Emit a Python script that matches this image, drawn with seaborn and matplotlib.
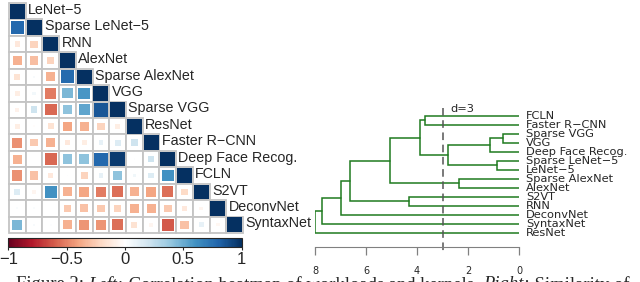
import numpy as np
import pandas as pd
import matplotlib
matplotlib.use('Agg')
import matplotlib.pyplot as plt
import seaborn as sns
from matplotlib.colors import LinearSegmentedColormap, ListedColormap, Normalize
from matplotlib.cm import ScalarMappable
from matplotlib.patches import Rectangle

# %%
# data
nets = ['LeNet−5', 'Sparse LeNet−5', 'RNN', 'AlexNet', 'Sparse AlexNet', 'VGG',
        'Sparse VGG', 'ResNet', 'Faster R−CNN', 'Deep Face Recog.', 'FCLN',
        'S2VT', 'DeconvNet', 'SyntaxNet']

# lower triangle of the correlation matrix, row by row (diagonal is 1)
corr_rows = [
    [0.78],
    [-0.13, -0.23],
    [-0.36, -0.31, -0.23],
    [-0.16, 0.03, -0.36, 0.77],
    [-0.10, 0.05, -0.52, 0.45, 0.58],
    [-0.08, 0.20, -0.58, 0.40, 0.52, 0.85],
    [-0.10, -0.02, -0.16, -0.40, -0.36, -0.23, -0.10],
    [-0.46, -0.27, -0.36, -0.13, -0.10, 0.10, 0.15, 0.20],
    [-0.36, 0.00, -0.58, 0.40, 0.40, 0.78, 0.95, 0.01, 0.20],
    [-0.46, -0.30, -0.13, 0.01, -0.23, 0.10, 0.40, 0.06, 0.15, 0.60],
    [0.15, -0.06, 0.60, -0.36, -0.40, -0.52, -0.55, -0.36, -0.40, -0.55, -0.20],
    [0.02, 0.02, 0.00, -0.27, -0.30, -0.27, -0.23, -0.36, -0.36, -0.27, -0.13, -0.06],
    [0.45, 0.03, 0.01, -0.36, -0.45, -0.45, -0.55, -0.16, -0.06, -0.62, -0.30, 0.10, -0.05],
]

cbar_ticks = [-1, -0.5, 0, 0.5, 1]
cbar_labels = ['−1', '−0.5', '0', '0.5', '1']

# dendrogram: leaves top to bottom, merges like a linkage table
leaves = ['FCLN', 'Faster R−CNN', 'Sparse VGG', 'VGG', 'Deep Face Recog.',
          'Sparse LeNet−5', 'LeNet−5', 'Sparse AlexNet', 'AlexNet', 'S2VT',
          'RNN', 'DeconvNet', 'SyntaxNet', 'ResNet']
merge_a = [0, 2, 15, 5, 16, 14, 7, 19, 9, 21, 23, 24, 25]
merge_b = [1, 3, 4, 6, 17, 18, 8, 20, 10, 22, 11, 12, 13]
merge_h = [3.69, 0.64, 1.14, 0.87, 2.77, 3.88, 2.35, 5.06, 4.30, 6.63, 6.98, 7.74, 8.00]
cut_height = 3
dist_ticks = [8, 6, 4, 2, 0]

caption_parts = [('Figure 2: ', 'normal'), ('Left:', 'italic'),
                 (' Correlation heatmap of workloads and kernels. ', 'normal'),
                 ('Right:', 'italic'), (' Similarity of', 'normal')]

# %%
sns.set_style('white')
plt.rcParams['font.family'] = ['Liberation Sans', 'DejaVu Sans']

W, H = 640, 282
fig = plt.figure(figsize=(W / 100, H / 100), dpi=100)


def px_axes(x0, y0, x1, y1):
    return fig.add_axes([x0 / W, 1 - y1 / H, (x1 - x0) / W, (y1 - y0) / H])


n = len(nets)
mat = np.eye(n)
for i, row in enumerate(corr_rows, start=1):
    mat[i, :len(row)] = row
    mat[:len(row), i] = row

cmap = LinearSegmentedColormap.from_list(
    'corr', ['#67001F', '#B2182B', '#D6604D', '#F4A582', '#FDDBC7', '#FFFFFF',
             '#D1E5F0', '#92C5DE', '#4393C3', '#2166AC', '#053061'], N=200)
norm = Normalize(-1, 1)

# correlation matrix: seaborn sets up the cell axes, squares sized by |r|
ax = px_axes(9, 3, 243, 233)
grid_df = pd.DataFrame(np.zeros((n, n)), index=nets, columns=nets)
mask = np.triu(np.ones((n, n), dtype=bool), k=1)
sns.heatmap(grid_df, mask=mask, cmap=ListedColormap(['white']), cbar=False,
            linewidths=0, xticklabels=False, yticklabels=False, ax=ax)

for i in range(n):
    for j in range(i + 1):
        ax.add_patch(Rectangle((j, i), 1, 1, facecolor='white',
                               edgecolor='#c4c4c4', lw=1.3, zorder=2, clip_on=False))
        r = mat[i, j]
        s = 0.9 * np.sqrt(abs(r))
        ax.add_patch(Rectangle((j + 0.5 - s / 2, i + 0.5 - s / 2), s, s,
                               facecolor=cmap(norm(r)), edgecolor='none', zorder=3))
    ax.text(i + 1.14, i + 0.42, nets[i], ha='left', va='center', fontsize=10.3)
ax.axis('off')

# colour bar
cax = px_axes(8.3, 237.7, 241.7, 247)
cb = fig.colorbar(ScalarMappable(norm=norm, cmap=cmap), cax=cax,
                  orientation='horizontal', ticks=cbar_ticks)
cb.set_ticklabels(cbar_labels)
cb.outline.set_linewidth(0.8)
cax.tick_params(length=2.5, width=0.8, pad=1, labelsize=12)

# dendrogram
dax = px_axes(315, 102.2, 519, 246.5)
pos = list(range(len(leaves)))
hgt = [0.0] * len(leaves)
green = '#1f7a1f'
for a, b, h in zip(merge_a, merge_b, merge_h):
    dax.plot([hgt[a], h, h, hgt[b]], [pos[a], pos[a], pos[b], pos[b]],
             color=green, lw=1.1, solid_joinstyle='miter')
    pos.append((pos[a] + pos[b]) / 2)
    hgt.append(h)
for i, name in enumerate(leaves):
    dax.text(-0.27, i, name, ha='left', va='center', fontsize=8.2,
             family='DejaVu Sans')
dax.plot([cut_height, cut_height], [-0.85, 15.2], color='#555555', lw=1.1,
         ls=(0, (5, 3)), clip_on=False)
dax.text(cut_height - 0.3, -0.7, 'd=3', ha='left', va='center', fontsize=8.2,
         family='DejaVu Sans')
dax.set_xlim(8, 0)
dax.set_ylim(14.5, -1.5)
dax.set_yticks([])
dax.set_xticks(dist_ticks)
dax.set_xticklabels([str(t) for t in dist_ticks], family='DejaVu Sans')
for side in ['top', 'left', 'right']:
    dax.spines[side].set_visible(False)
dax.spines['bottom'].set_bounds(0, 8)
dax.spines['bottom'].set_color('#808080')
dax.tick_params(axis='x', bottom=True, direction='out', length=6, width=0.9,
                color='#808080', pad=8, labelsize=7)
dax.set_facecolor('none')

# caption, cut off by the bottom edge as in the source
fig.canvas.draw()
renderer = fig.canvas.get_renderer()
x = 16
for txt, style in caption_parts:
    t = fig.text(x / W, 1 - 276 / H, txt, ha='left', va='top', fontsize=13.4,
                 family='Liberation Serif', style=style)
    x = t.get_window_extent(renderer).x1

fig.savefig('out.png', dpi=100)
